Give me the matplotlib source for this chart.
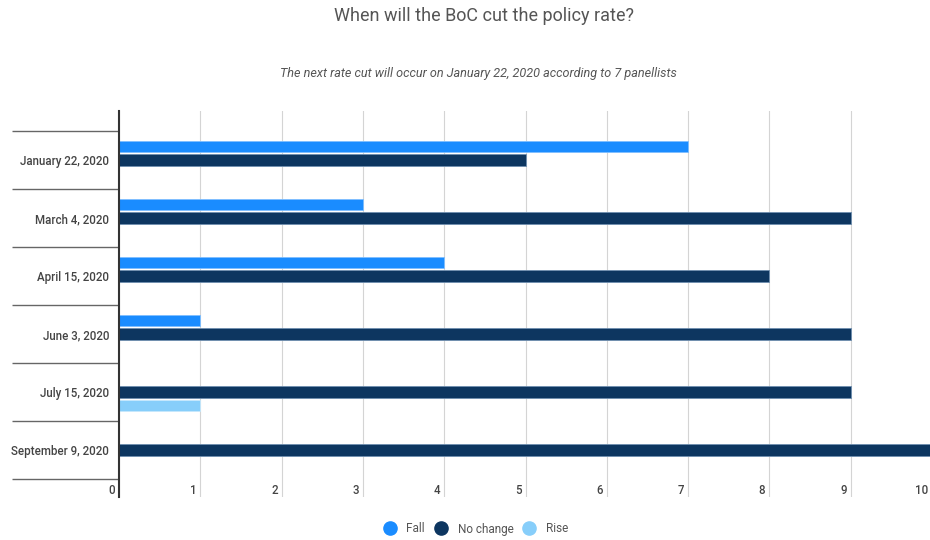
import matplotlib
matplotlib.use("Agg")
import matplotlib.pyplot as plt
from matplotlib.lines import Line2D
import matplotlib.transforms as mtransforms
import numpy as np

plt.rcParams['font.family'] = ['Roboto', 'DejaVu Sans']

categories = ["January 22, 2020", "March 4, 2020", "April 15, 2020",
              "June 3, 2020", "July 15, 2020", "September 9, 2020"]
fall = [7, 3, 4, 1, 0, 0]
no_change = [5, 9, 8, 9, 9, 10]
rise = [0, 0, 0, 0, 1, 0]
x_ticks = [0, 1, 2, 3, 4, 5, 6, 7, 8, 9, 10]

title = "When will the BoC cut the policy rate?"
subtitle = "The next rate cut will occur on January 22, 2020 according to 7 panellists"

c_fall = "#1a8cff"
c_nc = "#0d3660"
c_rise = "#87cefa"

W, H = 930, 540
fig = plt.figure(figsize=(W / 100, H / 100), dpi=100)
ax_left, ax_right, ax_top, ax_bot = 119, 932, 111, 497
ax = fig.add_axes([ax_left / W, 1 - ax_bot / H, (ax_right - ax_left) / W, (ax_bot - ax_top) / H])

y = np.arange(len(categories))
bh = 0.19
off = 0.232
ax.barh(y - off, fall, height=bh, color=c_fall, edgecolor="#7fbfff", linewidth=0.6, zorder=3)
ax.barh(y, no_change, height=bh, color=c_nc, edgecolor="#6f8fb0", linewidth=0.6, zorder=3)
ax.barh(y + off, rise, height=bh, color=c_rise, edgecolor="#c6e8fc", linewidth=0.6, zorder=3)

ax.set_xlim(0, 10)
ax.set_ylim(5.5 + 18 / 58, -0.5 - 20 / 58)

# x gridlines
ax.set_xticks(x_ticks)
ax.tick_params(axis='x', length=0, labelbottom=False)
ax.grid(axis='x', color="#d4d4d4", linewidth=0.8, zorder=0)
shift = mtransforms.ScaledTranslation(-4 / 100, 0, fig.dpi_scale_trans)
for t in x_ticks:
    ax.text(t, 5.5 + 11 / 58, str(t), transform=ax.transData + shift, ha='right', va='center',
            fontsize=8.3, color="#444444", fontweight='medium')

# y axis: category labels + separators as minor ticks
ax.set_yticks(y)
ax.set_yticklabels(categories, fontsize=8.3, color="#444444", fontweight='medium')
ax.tick_params(axis='y', which='major', length=0, pad=7)
ax.set_yticks(np.arange(-0.5, len(categories)), minor=True)
ax.tick_params(axis='y', which='minor', length=107 * 0.72, width=1.0, color="#666666")

for s in ['top', 'right', 'bottom']:
    ax.spines[s].set_visible(False)
ax.spines['left'].set_color("#333333")
ax.spines['left'].set_linewidth(1.5)
ax.spines['left'].set_zorder(4)

fig.text(484 / W, 1 - 16 / H, title, ha='center', va='center', fontsize=13, color="#555555")
fig.text(478 / W, 1 - 73 / H, subtitle, ha='center', va='center', fontsize=9.1,
         style='italic', color="#555555")

handles = [Line2D([], [], marker='o', linestyle='none', markersize=9.5, color=c)
           for c in (c_fall, c_nc, c_rise)]
fig.legend(handles, ["Fall", "No change", "Rise"], loc='center', bbox_to_anchor=(476 / W, 1 - 529 / H),
           ncol=3, frameon=False, fontsize=8.5, handletextpad=0.9, columnspacing=0.85,
           labelcolor="#555555", handlelength=1.0)

fig.savefig("out.png", dpi=100)
